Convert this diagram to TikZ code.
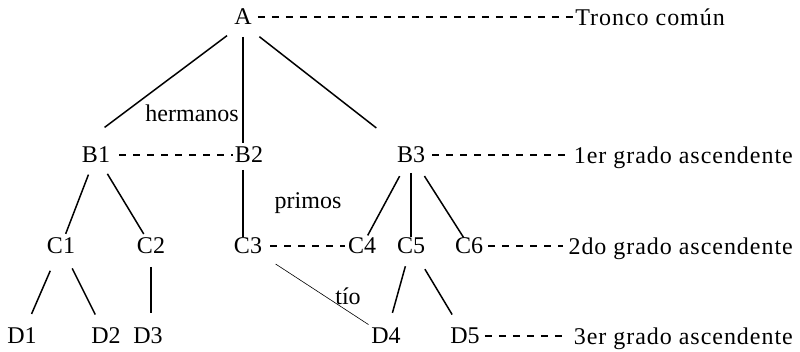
\documentclass[tikz,border=0pt]{standalone}
\usepackage{fontspec}
\setmainfont{Liberation Serif}
\usetikzlibrary{calc}

\begin{document}
\begin{tikzpicture}[x=1pt, y=-1pt, font=\fontsize{24}{28}\selectfont,
    every node/.style={inner sep=0pt, text depth=0pt},
    grado/.style={anchor=east, font=\fontsize{24}{28}\selectfont\addfontfeatures{LetterSpace=4}},
    rama/.style={line width=1.5pt},
    fina/.style={line width=0.6pt},
    guion/.style={line width=1.2pt, dash pattern=on 7pt off 7pt}]
      \useasboundingbox (0,0) rectangle (800,352);
      % generaciones
      \node (A) at (243,17) {A};
      \node (B1) at (96,155) {B1};
      \node (B2) at (249,155) {B2};
      \node (B3) at (411,155) {B3};
      \node (C1) at (61,246) {C1};
      \node (C2) at (151,246) {C2};
      \node (C3) at (248,246) {C3};
      \node (C4) at (362,246) {C4};
      \node (C5) at (411,246) {C5};
      \node (C6) at (469,246) {C6};
      \node (D1) at (22,336) {D1};
      \node (D2) at (106,336) {D2};
      \node (D3) at (148,336) {D3};
      \node (D4) at (386,336) {D4};
      \node (D5) at (465,336) {D5};
      % grados
      \node[grado] (tronco) at (725,17) {Tronco común};
      \node[grado] (g1) at (793,155) {1er grado ascendente};
      \node[grado] (g2) at (793,246) {2do grado ascendente};
      \node[grado] (g3) at (793,336) {3er grado ascendente};
      \node[anchor=east] (herm) at (239,113) {hermanos};
      \node (prim) at (308,201) {primos};
      \node (tio) at (348,296) {tío};
      % ramas
      \draw[rama, shorten <=31pt, shorten >=46pt] (A.east) -- ($(B1.west)+(-14,0)$);
      \draw[rama, shorten <=20pt, shorten >=12pt] (A.center) -- (A |- B2);
      \draw[rama, shorten <=32pt, shorten >=44pt] (A.west) -- (B3.center);
      \draw[rama, shorten <=21pt, shorten >=13pt] (B1.center) -- (C1.center);
      \draw[rama, shorten <=22pt, shorten >=14pt] (B1.center) -- (C2.center);
      \draw[rama, shorten <=15pt, shorten >=9pt] (A |- B2) -- (A |- C3);
      \draw[rama, shorten <=24pt, shorten >=12pt] (B3.center) -- (C4.center);
      \draw[rama, shorten <=18pt, shorten >=9pt] (B3.center) -- (C5.center);
      \draw[rama, shorten <=25pt, shorten >=10pt] (B3.center) -- (C6.center);
      \draw[rama, shorten <=27pt, shorten >=24pt] (C1.center) -- (D1.center);
      \draw[rama, shorten <=25pt, shorten >=24pt] (C1.center) -- (D2.center);
      \draw[rama, shorten <=21pt, shorten >=23pt] (C2.center) -- (C2 |- D3);
      \draw[fina, shorten <=33pt, shorten >=21pt] (C3.center) -- (D4.center);
      \draw[rama, shorten <=21pt, shorten >=24pt] (C5.center) -- (D4.center);
      \draw[rama, shorten <=27pt, shorten >=25pt] (C5.center) -- (D5.center);
      % lineas de grado
      \draw[guion, shorten <=6pt] (A.east) -- (tronco.west);
      \draw[guion, shorten <=9pt, shorten >=2pt] (B1.east) -- (B2.west);
      \draw[guion, shorten <=7pt, shorten >=5pt] (B3.east) -- (g1.west);
      \draw[guion, shorten <=8pt, shorten >=3pt] (C3.east) -- (C4.west);
      \draw[guion, shorten <=5pt, shorten >=5pt] (C6.east) -- (g2.west);
      \draw[guion, shorten <=5pt, shorten >=5pt] (D5.east) -- (g3.west);
    \end{tikzpicture}
\end{document}
